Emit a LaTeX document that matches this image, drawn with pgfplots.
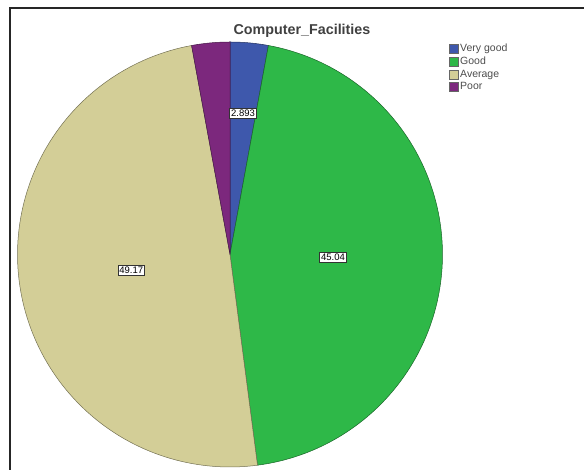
\documentclass[border=0pt]{standalone}
\usepackage{pgfplots}
\pgfplotsset{compat=1.18}
\usepackage{pgfplotstable}
\usepackage{fontspec}
\setmainfont{Liberation Sans}
\definecolor{cVG}{HTML}{3E58AC}
\definecolor{cGo}{HTML}{2EB848}
\definecolor{cAv}{HTML}{D3CE97}
\definecolor{cPo}{HTML}{7C287D}

\pgfplotstableread{
label value
{Very good} 2.893
Good 45.04
Average 49.17
Poor 2.893
}\piedata

\pgfplotstablegetelem{0}{value}\of\piedata \let\vA\pgfplotsretval
\pgfplotstablegetelem{1}{value}\of\piedata \let\vB\pgfplotsretval
\pgfplotstablegetelem{2}{value}\of\piedata \let\vC\pgfplotsretval
\pgfplotstablegetelem{3}{value}\of\piedata \let\vD\pgfplotsretval
\pgfmathsetmacro\tot{\vA+\vB+\vC+\vD}
\pgfmathsetmacro\aA{0}
\pgfmathsetmacro\aB{\aA+\vA/\tot*360}
\pgfmathsetmacro\aC{\aB+\vB/\tot*360}
\pgfmathsetmacro\aD{\aC+\vC/\tot*360}
\pgfmathsetmacro\aE{360}

\def\cx{230}
\def\cy{-254.5}
\def\rr{212.5}

\begin{document}
\begin{tikzpicture}
\begin{axis}[
  scale only axis, width=584pt, height=470pt,
  xmin=0, xmax=584, ymin=-470, ymax=0,
  hide axis,
  legend image code/.code={\draw[#1, draw=black!60, line width=0.4pt] (0pt,-4.5pt) rectangle (8.5pt,4.5pt);},
  legend style={at={(axis cs:446,-41.5)}, anchor=north west, draw=none, fill=none,
    font=\fontsize{10.5}{12}\selectfont, nodes={inner sep=0.6pt}, column sep=1.5pt,
    row sep=2.6pt, text=black!70},
  legend cell align=left,
]
\path (rel axis cs:0,0) rectangle (rel axis cs:1,1);
\addplot[fill=cVG, draw=cVG!55!black, line width=0.5pt, domain=\aA:\aB, samples=30]
  ({\cx+\rr*sin(x)}, {\cy+\rr*cos(x)}) -- (axis cs:\cx,\cy) -- cycle;
\addlegendentry{Very good}
\addplot[fill=cGo, draw=cGo!55!black, line width=0.5pt, domain=\aB:\aC, samples=120]
  ({\cx+\rr*sin(x)}, {\cy+\rr*cos(x)}) -- (axis cs:\cx,\cy) -- cycle;
\addlegendentry{Good}
\addplot[fill=cAv, draw=cAv!55!black, line width=0.5pt, domain=\aC:\aD, samples=120]
  ({\cx+\rr*sin(x)}, {\cy+\rr*cos(x)}) -- (axis cs:\cx,\cy) -- cycle;
\addlegendentry{Average}
\addplot[fill=cPo, draw=cPo!55!black, line width=0.5pt, domain=\aD:\aE, samples=30]
  ({\cx+\rr*sin(x)}, {\cy+\rr*cos(x)}) -- (axis cs:\cx,\cy) -- cycle;
\addlegendentry{Poor}

\draw[line width=1.8pt, black!85] (axis cs:10,-472) -- (axis cs:10,-8) -- (axis cs:590,-8);

\node[font=\bfseries\fontsize{14.3}{16}\selectfont, text=black!75] at (axis cs:302,-31) {Computer\_Facilities};

\tikzset{lbl/.style={draw=black!80, fill=white, line width=0.5pt, inner sep=1.5pt, font=\fontsize{9.5}{11}\selectfont}}
\node[lbl] at (axis cs:243,-113.6) {2.893};
\node[lbl] at (axis cs:333,-257.2) {45.04};
\node[lbl] at (axis cs:131.2,-270.1) {49.17};
\end{axis}
\end{tikzpicture}
\end{document}
